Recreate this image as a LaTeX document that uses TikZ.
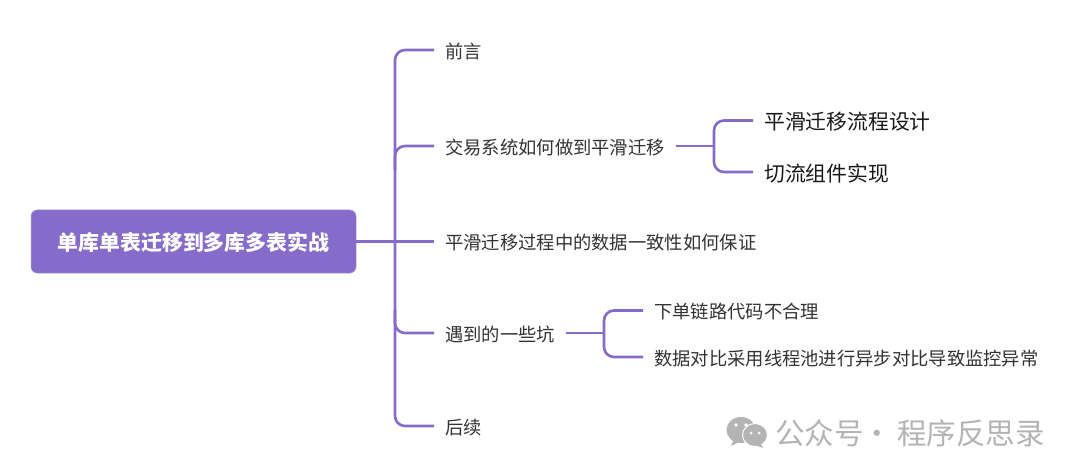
\documentclass[tikz,border=0pt]{standalone}
\usepackage{fontspec}
\setmainfont{Noto Sans CJK SC}
\usetikzlibrary{calc}
\definecolor{purp}{HTML}{866BCB}
\definecolor{txt}{HTML}{333333}
\definecolor{wm}{HTML}{B4B4B4}
\newcommand\dn[1]{\raisebox{-1.2pt}[\height][\depth]{#1}}
\tikzset{
  x=1pt,y=-1pt,
  conn/.style={draw=purp,line width=2.6pt,rounded corners=10pt},
  rootbox/.style={fill=purp,draw=purp!70!white,line width=.5pt,rounded corners=6pt,minimum width=325pt,minimum height=63pt,inner sep=0pt,text=white,font=\fontsize{20.9}{24}\selectfont\bfseries},
  lvl/.style={anchor=west,inner xsep=11pt,inner ysep=2pt,text=txt,font=\fontsize{18.3}{22}\selectfont},
  big/.style={anchor=west,inner xsep=11pt,inner ysep=2pt,text=black!90,font=\fontsize{20.8}{24}\selectfont},
}
\begin{document}
\begin{tikzpicture}
\useasboundingbox (0,0) rectangle (1080,476);
\fill[white] (0,0) rectangle (1080,476);
\node[rootbox] (root) at (193.5,241.5) {\dn{单库单表迁移到多库多表实战}};
\node[lvl] (n1) at (434,50) {\dn{前言}};
\node[lvl] (n2) at (434,146) {\dn{交易系统如何做到平滑迁移}};
\node[lvl] (n3) at (434,241.5) {\dn{平滑迁移过程中的数据一致性如何保证}};
\node[lvl] (n4) at (434,333) {\dn{遇到的一些坑}};
\node[lvl] (n5) at (434,426) {\dn{后续}};
\node[big] (a1) at (753,120.5) {\dn{平滑迁移流程设计}};
\node[big] (a2) at (753,172) {\dn{切流组件实现}};
\node[lvl] (b1) at (643,310.5) {\dn{下单链路代码不合理}};
\node[lvl] (b2) at (643,357) {\dn{数据对比采用线程池进行异步对比导致监控异常}};
\coordinate (t2) at (395,170);
\coordinate (t4) at (395,310);
\coordinate (ax) at (714,146);
\coordinate (bx) at (604,333);
\draw[conn] (n1.west) -| (395,240) |- (n5.west);
\draw[conn] (root.east) -- (n3.west);
\draw[conn] (t2) |- (n2.west);
\draw[conn] (t4) |- (n4.west);
\draw[conn] (a1.west) -| (ax) |- (a2.west);
\draw[conn] (n2.east) -- (ax);
\draw[conn] (b1.west) -| (bx) |- (b2.west);
\draw[conn] (n4.east) -- (bx);
% watermark
\fill[wm] (741,430) ellipse [x radius=14.5pt,y radius=13pt];
\fill[wm] (733,441) -- (731,446) -- (741,441) -- cycle;
\filldraw[wm,draw=white,line width=1pt] (755,435) ellipse [x radius=12.5pt,y radius=11.5pt];
\fill[wm] (761,444) -- (763,448) -- (755,445) -- cycle;
\fill[white] (736,425) circle (1.8pt) (746,425) circle (1.8pt) (751,433) circle (1.5pt) (759,433) circle (1.5pt);
\node[anchor=west,inner sep=0pt,text=wm,font=\fontsize{29.5}{34}\selectfont] (wmk) at (775,433) {公众号\hspace{-1pt}·\hspace{5pt}程序反思录};
\end{tikzpicture}
\end{document}
